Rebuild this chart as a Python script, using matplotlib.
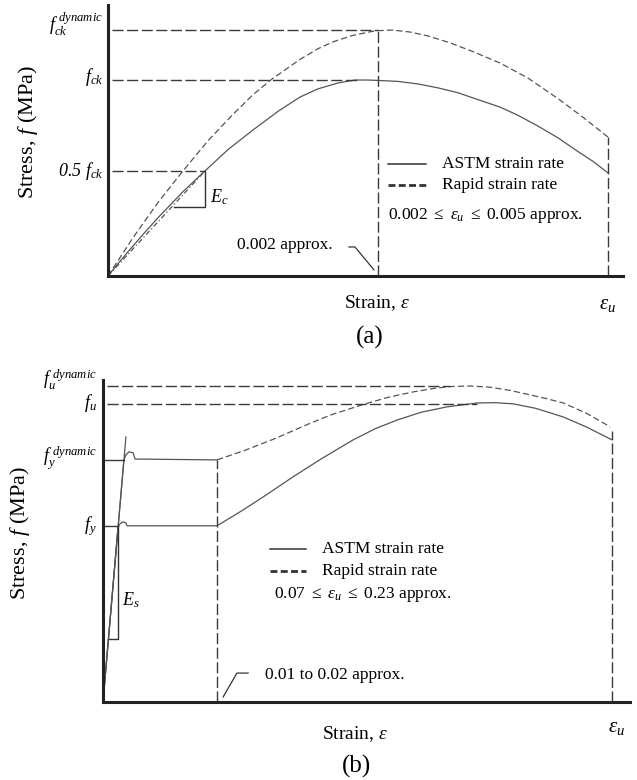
import numpy as np
import matplotlib.pyplot as plt

plt.rcParams['font.family'] = 'Liberation Serif'
plt.rcParams['mathtext.fontset'] = 'custom'
plt.rcParams['mathtext.rm'] = 'Liberation Serif'
plt.rcParams['mathtext.it'] = 'Liberation Serif:italic'

# --- (a) concrete: strain / eps_u, stress / f_ck ---
eps_a_astm = [0, 0.025, 0.05, 0.075, 0.10, 0.15, 0.194, 0.24, 0.29, 0.34, 0.384, 0.42, 0.46, 0.494,
              0.52, 0.54, 0.58, 0.62, 0.66, 0.70, 0.74, 0.784, 0.82, 0.86, 0.90, 0.94, 0.97, 1.0]
f_a_astm = [0, 0.078, 0.153, 0.226, 0.297, 0.43, 0.536, 0.645, 0.745, 0.84, 0.913, 0.955, 0.985, 1.0,
            1.0, 0.998, 0.993, 0.98, 0.96, 0.935, 0.90, 0.862, 0.82, 0.765, 0.705, 0.635, 0.585, 0.526]

eps_a_rapid = [0, 0.05, 0.10, 0.15, 0.20, 0.25, 0.29, 0.328, 0.384, 0.42, 0.45, 0.49, 0.528, 0.54,
               0.57, 0.604, 0.64, 0.684, 0.73, 0.784, 0.84, 0.904, 0.95, 1.0]
f_a_rapid = [0, 0.195, 0.375, 0.536, 0.69, 0.825, 0.925, 1.005, 1.105, 1.16, 1.195, 1.228, 1.248, 1.252,
             1.255, 1.245, 1.225, 1.19, 1.145, 1.087, 1.01, 0.898, 0.81, 0.709]

fck_dyn_a = 1.255
fck_a = 1.0
half_fck_a = 0.536
eps_half_a = 0.194
eps_peak_a = 0.54
eps_u_a = 1.0

# --- (b) steel: strain / eps_u, stress / f_u ---
eps_b_astm = [0.0, 0.0295, 0.033, 0.039, 0.045, 0.047, 0.224, 0.275, 0.32, 0.373, 0.43, 0.491, 0.535,
              0.578, 0.625, 0.676, 0.735, 0.77, 0.806, 0.85, 0.904, 0.95, 1.0]
f_b_astm = [0.0, 0.587, 0.597, 0.604, 0.601, 0.591, 0.591, 0.644, 0.694, 0.755, 0.817, 0.879, 0.917,
            0.946, 0.972, 0.990, 1.003, 1.004, 1.0, 0.985, 0.956, 0.922, 0.879]

eps_b_rapid = [0.0, 0.041, 0.045, 0.051, 0.059, 0.063, 0.224, 0.28, 0.34, 0.40, 0.446, 0.511, 0.56,
               0.609, 0.65, 0.682, 0.72, 0.76, 0.80, 0.839, 0.87, 0.904, 0.95, 0.996]
f_b_rapid = [0.0, 0.812, 0.829, 0.839, 0.836, 0.815, 0.812, 0.845, 0.885, 0.93, 0.962, 0.998, 1.022,
             1.04, 1.052, 1.058, 1.06, 1.056, 1.045, 1.03, 1.018, 1.003, 0.968, 0.923]

fu_dyn_b = 1.06
fu_b = 1.0
fy_dyn_b = 0.812
fy_b = 0.591
eps_sh_b = 0.224
eps_elastic_top = [0.0, 0.045]
f_elastic_top = [0.0, 0.889]

curve_col = '#555555'
ref_col = '#3a3a3a'
dash_ref = (8, 2.5)
dash_rapid = (5, 2.5)

fig = plt.figure(figsize=(6.37, 7.8), dpi=100)
ax1 = fig.add_axes([0.1695, 0.6462, 0.8085, 0.3474])
ax2 = fig.add_axes([0.1617, 0.1, 0.8273, 0.4128])

for ax in (ax1, ax2):
    for s in ('top', 'right'):
        ax.spines[s].set_visible(False)
    for s in ('left', 'bottom'):
        ax.spines[s].set_linewidth(2.2)
        ax.spines[s].set_color('#222222')
    ax.set_xticks([])
    ax.set_yticks([])


def ylab(ax, dx, y, s, **kw):
    ax.text(dx, y, s, transform=ax.get_yaxis_transform(), ha='right', va='center', fontsize=13, **kw)


# ---------------- panel (a) ----------------
ax1.set_xlim(0, 1.03)
ax1.set_ylim(0, 1.383)

ax1.plot(eps_a_astm, f_a_astm, color=curve_col, lw=0.9)
ax1.plot(eps_a_rapid, f_a_rapid, color=curve_col, lw=0.9, dashes=dash_rapid)
# secant to 0.5 fck
ax1.plot([0, eps_half_a], [0, half_fck_a], color=curve_col, lw=0.9, dashes=(4, 2, 1, 2))

ax1.plot([0.008, eps_peak_a], [fck_dyn_a, fck_dyn_a], color=ref_col, lw=1, dashes=dash_ref)
ax1.plot([0.008, 0.50], [fck_a, fck_a], color=ref_col, lw=1, dashes=dash_ref)
ax1.plot([0.008, eps_half_a], [half_fck_a, half_fck_a], color=ref_col, lw=1, dashes=dash_ref)
ax1.plot([eps_peak_a, eps_peak_a], [0, fck_dyn_a], color=ref_col, lw=1, dashes=dash_ref)
ax1.plot([eps_u_a, eps_u_a], [0, f_a_rapid[-1]], color=ref_col, lw=1, dashes=dash_ref)

# Ec triangle
ax1.plot([eps_half_a, eps_half_a, 0.132], [half_fck_a, 0.352, 0.352], color='#333333', lw=1)
ax1.text(0.204, 0.40, r'$E_c$', fontsize=13, va='center', ha='left')

ylab(ax1, -0.0097, half_fck_a, r'0.5 $f_{ck}$', style='italic')
ylab(ax1, -0.0097, fck_a + 0.015, r'$f_{ck}$')
ylab(ax1, -0.0097, fck_dyn_a + 0.03, r'$f_{ck}^{\ dynamic}$')

# legend
ax1.plot([0.56, 0.636], [0.571, 0.571], color='#333333', lw=1.1)
ax1.plot([0.56, 0.636], [0.464, 0.464], color='#333333', lw=2, dashes=(2.5, 1.2))
ax1.text(0.668, 0.571, 'ASTM strain rate', fontsize=12.5, va='center')
ax1.text(0.668, 0.464, 'Rapid strain rate', fontsize=12.5, va='center')
ax1.text(0.56, 0.31, r'$0.002\ \leq\ \varepsilon_u\ \leq\ 0.005$ approx.', fontsize=12.5, va='center')

ax1.text(0.258, 0.158, '0.002 approx.', fontsize=12.5, va='center')
ax1.plot([0.482, 0.494, 0.532], [0.148, 0.148, 0.031], color='#333333', lw=0.9)

ax1.text(1.0, -0.148, r'$\varepsilon_u$', fontsize=15, ha='center', va='center')

# ---------------- panel (b) ----------------
ax2.set_xlim(0, 1.035)
ax2.set_ylim(0, 1.08)

ax2.plot(eps_b_astm, f_b_astm, color=curve_col, lw=0.9)
ax2.plot(eps_b_rapid[:7], f_b_rapid[:7], color=curve_col, lw=0.9)
ax2.plot(eps_b_rapid[6:], f_b_rapid[6:], color=curve_col, lw=0.9, dashes=dash_rapid)
ax2.plot(eps_elastic_top, f_elastic_top, color=curve_col, lw=0.9)

ax2.plot([0.008, 0.682], [fu_dyn_b, fu_dyn_b], color=ref_col, lw=1, dashes=dash_ref)
ax2.plot([0.008, 0.735], [fu_b, fu_b], color=ref_col, lw=1, dashes=dash_ref)
ax2.plot([0, 0.041], [fy_dyn_b, fy_dyn_b], color=ref_col, lw=1)
ax2.plot([0, 0.0295], [fy_b, fy_b], color=ref_col, lw=1)
ax2.plot([eps_sh_b, eps_sh_b], [0, fy_dyn_b], color=ref_col, lw=1, dashes=dash_ref)
ax2.plot([1.0, 1.0], [0, 0.91], color=ref_col, lw=1, dashes=dash_ref)

# Es triangle
ax2.plot([0.0295, 0.0295, 0.0118], [fy_b, 0.211, 0.211], color='#333333', lw=1)
ax2.text(0.037, 0.342, r'$E_s$', fontsize=13, va='center', ha='left')

ylab(ax2, -0.0114, fy_b, r'$f_y$')
ylab(ax2, -0.0114, fy_dyn_b + 0.005, r'$f_y^{\ dynamic}$')
ylab(ax2, -0.0114, fu_b + 0.004, r'$f_u$')
ylab(ax2, -0.0114, fu_dyn_b + 0.022, r'$f_u^{\ dynamic}$')

# legend
ax2.plot([0.328, 0.399], [0.513, 0.513], color='#333333', lw=1.1)
ax2.plot([0.328, 0.399], [0.44, 0.44], color='#333333', lw=2, dashes=(2.5, 1.2))
ax2.text(0.43, 0.513, 'ASTM strain rate', fontsize=12.5, va='center')
ax2.text(0.43, 0.44, 'Rapid strain rate', fontsize=12.5, va='center')
ax2.text(0.336, 0.359, r'$0.07\ \leq\ \varepsilon_u\ \leq\ 0.23$ approx.', fontsize=12.5, va='center')

ax2.text(0.318, 0.091, '0.01 to 0.02 approx.', fontsize=12.5, va='center')
ax2.plot([0.236, 0.263, 0.285], [0.017, 0.097, 0.097], color='#333333', lw=0.9)

ax2.text(1.008, -0.087, r'$\varepsilon_u$', fontsize=15, ha='center', va='center')

# axis titles and panel labels
fig.text(0.044, 0.831, r'Stress, $f$ (MPa)', fontsize=16, rotation=90, ha='center', va='center')
fig.text(0.592, 0.612, r'Strain, $\varepsilon$', fontsize=14, ha='center', va='center')
fig.text(0.581, 0.568, '(a)', fontsize=18, ha='center', va='center')

fig.text(0.031, 0.317, r'Stress, $f$ (MPa)', fontsize=16, rotation=90, ha='center', va='center')
fig.text(0.557, 0.059, r'Strain, $\varepsilon$', fontsize=14, ha='center', va='center')
fig.text(0.559, 0.018, '(b)', fontsize=18, ha='center', va='center')

fig.savefig('out.png', dpi=100)
